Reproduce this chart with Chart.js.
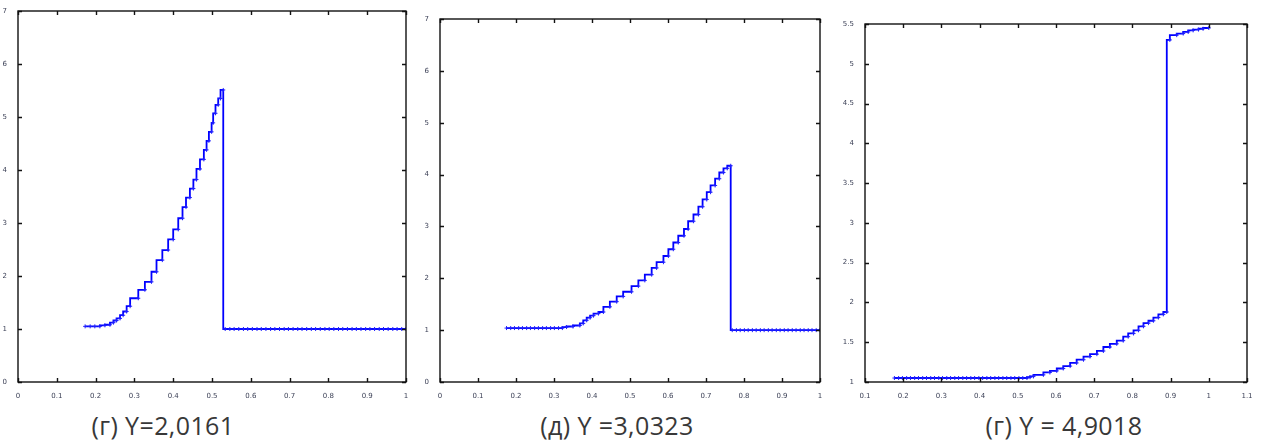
<!DOCTYPE html>
<html>
<head>
<meta charset="utf-8">
<script src="https://cdn.jsdelivr.net/npm/chart.js@4.4.0/dist/chart.umd.min.js"></script>
<style>
  body { margin: 0; background: #fff; width: 1262px; height: 443px; position: relative; overflow: hidden; }
  canvas { position: absolute; top: 0; }
  .cap { position: absolute; top: 408px; line-height: 34px; font-family: "Open Sans", "Noto Sans", sans-serif; font-size: 25px; letter-spacing: 0.4px; color: #383838; white-space: pre; transform: translateX(-50%); }
</style>
</head>
<body>
<canvas id="c1" width="420" height="400" style="left:0px"></canvas>
<canvas id="c2" width="420" height="400" style="left:420px"></canvas>
<canvas id="c3" width="422" height="400" style="left:840px"></canvas>
<div class="cap" style="left:163px">(г) Y=2,0161</div>
<div class="cap" style="left:617px">(д) Y =3,0323</div>
<div class="cap" style="left:1064px">(г) Y = 4,9018</div>
<script>
// panel г, Y=2,0161
const p1X = [0.173,0.186,0.198,0.211,0.224,0.237,0.246,0.254,0.263,0.271,0.280,0.289,0.310,0.327,0.344,0.357,0.372,0.387,0.400,0.413,0.424,0.433,0.443,0.452,0.460,0.469,0.479,0.486,0.492,0.499,0.503,0.509,0.516,0.522,0.529,
  0.534,0.546,0.557,0.569,0.581,0.592,0.604,0.616,0.627,0.639,0.651,0.662,0.674,0.686,0.697,0.709,0.721,0.732,0.744,0.756,0.767,0.779,0.791,0.802,0.814,0.826,0.837,0.849,0.861,0.872,0.884,0.896,0.907,0.919,0.931,0.942,0.954,0.966,0.977,0.989,1.000];
const p1Y = [1.05,1.05,1.05,1.05,1.07,1.08,1.12,1.16,1.20,1.26,1.33,1.43,1.58,1.74,1.89,2.08,2.30,2.49,2.69,2.88,3.09,3.30,3.48,3.65,3.82,4.02,4.20,4.38,4.55,4.72,4.89,5.07,5.23,5.35,5.51,
  1,1,1,1,1,1,1,1,1,1,1,1,1,1,1,1,1,1,1,1,1,1,1,1,1,1,1,1,1,1,1,1,1,1,1,1,1,1,1,1,1];

// panel д, Y=3,0323
const p2X = [0.175,0.186,0.196,0.207,0.217,0.228,0.238,0.249,0.259,0.270,0.280,0.291,0.301,0.312,0.322,
  0.333,0.350,0.368,0.377,0.386,0.395,0.404,0.417,0.430,0.447,0.465,0.482,0.504,0.522,0.539,0.557,0.570,0.588,0.601,0.614,0.627,0.642,0.653,0.667,0.680,0.691,0.702,0.712,0.724,0.735,0.746,0.756,0.765,
  0.769,0.780,0.790,0.801,0.811,0.822,0.832,0.843,0.853,0.864,0.874,0.885,0.895,0.906,0.916,0.927,0.937,0.948,0.958,0.969,0.979,0.990,1.000];
const p2Y = [1.04,1.04,1.04,1.04,1.04,1.04,1.04,1.04,1.04,1.04,1.04,1.04,1.04,1.04,1.04,
  1.06,1.07,1.09,1.13,1.19,1.24,1.28,1.32,1.35,1.45,1.55,1.65,1.74,1.85,1.96,2.07,2.20,2.31,2.43,2.56,2.69,2.82,2.95,3.10,3.23,3.38,3.52,3.66,3.79,3.92,4.04,4.12,4.17,
  1,1,1,1,1,1,1,1,1,1,1,1,1,1,1,1,1,1,1,1,1,1,1];

// panel г, Y=4,9018
const p3X = [0.177,0.188,0.198,0.209,0.219,0.230,0.240,0.251,0.261,0.272,0.282,0.293,0.303,0.314,0.324,0.335,0.345,0.356,0.366,0.377,0.387,0.398,0.408,0.419,0.429,0.440,0.450,0.461,0.471,0.482,0.492,0.503,0.513,0.524,
  0.532,0.541,0.567,0.584,0.602,0.619,0.637,0.654,0.672,0.689,0.707,0.724,0.741,0.759,0.776,0.789,0.803,0.816,0.829,0.842,0.855,0.868,0.881,0.890,
  0.898,0.916,0.933,0.946,0.959,0.973,0.985,1.000];
const p3Y = [1.05,1.05,1.05,1.05,1.05,1.05,1.05,1.05,1.05,1.05,1.05,1.05,1.05,1.05,1.05,1.05,1.05,1.05,1.05,1.05,1.05,1.05,1.05,1.05,1.05,1.05,1.05,1.05,1.05,1.05,1.05,1.05,1.05,1.05,
  1.06,1.07,1.09,1.12,1.14,1.17,1.20,1.24,1.28,1.32,1.35,1.39,1.44,1.48,1.52,1.57,1.61,1.65,1.70,1.74,1.77,1.81,1.85,1.88,
  5.30,5.36,5.38,5.40,5.42,5.43,5.44,5.45];

// box round the plot + inward ticks on all four sides (matlab look)
const boxPlugin = {
  id: 'box',
  afterDraw(chart) {
    const { ctx, chartArea: a, scales } = chart;
    const x = scales.x, y = scales.y;
    ctx.save();
    ctx.strokeStyle = '#111';
    ctx.lineWidth = 1.4;
    ctx.strokeRect(a.left, a.top, a.right - a.left, a.bottom - a.top);
    ctx.beginPath();
    x.ticks.forEach(t => {
      const px = Math.round(x.getPixelForValue(t.value)) + 0.5;
      ctx.moveTo(px, a.bottom); ctx.lineTo(px, a.bottom - 4);
      ctx.moveTo(px, a.top); ctx.lineTo(px, a.top + 4);
    });
    y.ticks.forEach(t => {
      const py = Math.round(y.getPixelForValue(t.value)) + 0.5;
      ctx.moveTo(a.left, py); ctx.lineTo(a.left + 4, py);
      ctx.moveTo(a.right, py); ctx.lineTo(a.right - 4, py);
    });
    ctx.stroke();
    ctx.restore();
  }
};

const fmt = v => String(Number(v.toFixed(2)));

function makeChart(id, xs, ys, xr, yr, yWidth, pad) {
  const pts = xs.map((v, i) => ({ x: v, y: ys[i] }));
  return new Chart(document.getElementById(id), {
    type: 'line',
    data: {
      datasets: [{
        data: pts,
        borderColor: '#0000ff',
        borderWidth: 1.8,
        stepped: 'after',
        fill: false,
        pointStyle: 'cross',
        pointRadius: 2,
        pointBorderWidth: 1,
        pointBorderColor: '#2020ff',
        pointBackgroundColor: '#2020ff'
      }]
    },
    options: {
      responsive: false,
      animation: false,
      devicePixelRatio: 1,
      layout: { padding: pad },
      plugins: { legend: { display: false }, tooltip: { enabled: false } },
      scales: {
        x: {
          type: 'linear', min: xr[0], max: xr[1],
          grid: { display: false }, border: { display: false },
          ticks: { stepSize: xr[2], autoSkip: false, maxRotation: 0, padding: 2, color: '#3a3f55', font: { size: 7, family: 'DejaVu Sans' }, callback: fmt },
          afterFit: s => { s.height = 18; }
        },
        y: {
          type: 'linear', min: yr[0], max: yr[1],
          grid: { display: false }, border: { display: false },
          ticks: { stepSize: yr[2], autoSkip: false, padding: 3, color: '#3a3f55', font: { size: 7, family: 'DejaVu Sans' }, callback: fmt },
          afterFit: s => { s.width = yWidth; }
        }
      }
    },
    plugins: [boxPlugin]
  });
}

makeChart('c1', p1X, p1Y, [0, 1, 0.1], [0, 7, 1], 18, { top: 11, right: 14, left: 0, bottom: 0 });
makeChart('c2', p2X, p2Y, [0, 1, 0.1], [0, 7, 1], 20, { top: 19, right: 20, left: 0, bottom: 0 });
makeChart('c3', p3X, p3Y, [0.1, 1.1, 0.1], [1, 5.5, 0.5], 25, { top: 24, right: 15, left: 0, bottom: 0 });
</script>
</body>
</html>
